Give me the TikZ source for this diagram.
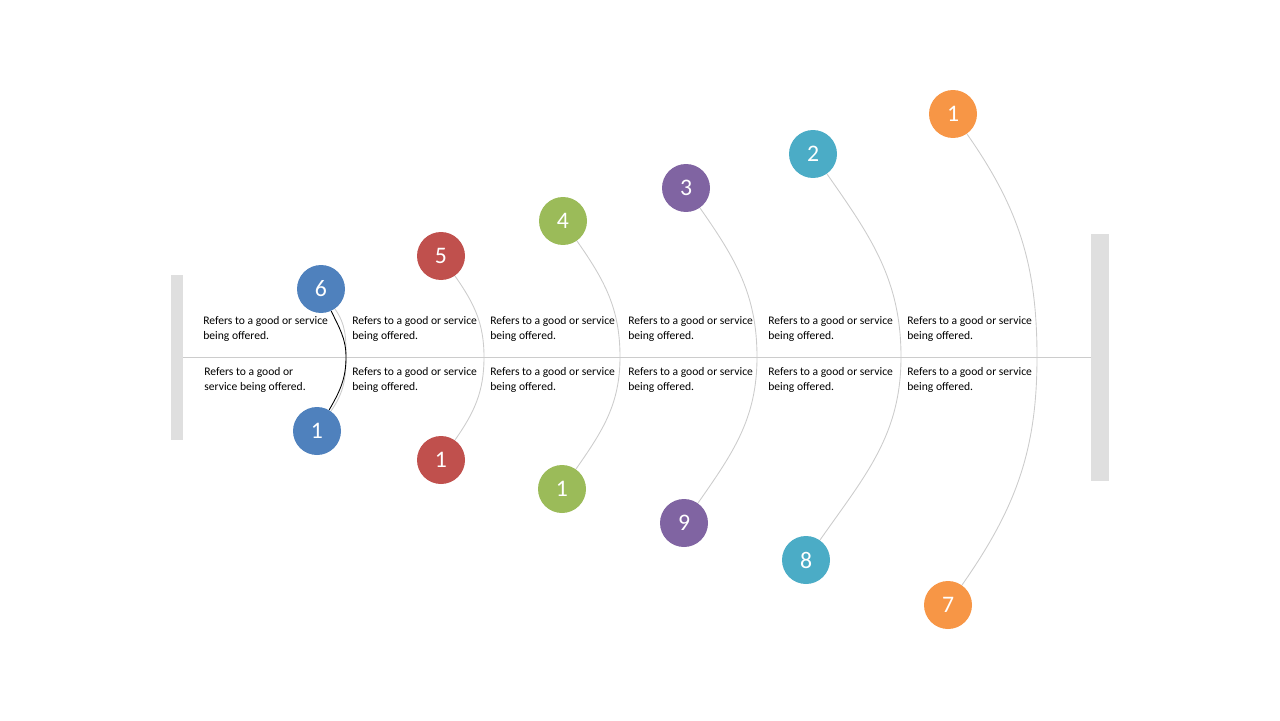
\documentclass[tikz,border=0pt]{standalone}
\usepackage{fontspec}
\setmainfont{Carlito}
\definecolor{cblue}{HTML}{4F81BD}
\definecolor{cred}{HTML}{C0504D}
\definecolor{cgreen}{HTML}{9BBB59}
\definecolor{cpurple}{HTML}{8064A2}
\definecolor{cteal}{HTML}{4BACC6}
\definecolor{corange}{HTML}{F79646}
\definecolor{barg}{HTML}{DFDFDF}
\tikzset{
  bone/.style={circle, minimum size=0.96cm, inner sep=0pt, text=white, font=\fontsize{13.5}{14}\selectfont},
  note/.style={anchor=north west, inner sep=0pt, align=left, font=\fontsize{6.6}{8.6}\selectfont},
  rib/.style={draw=black!20, line width=0.5pt}
}
\begin{document}
\begin{tikzpicture}[x=0.02cm,y=-0.02cm]
	\useasboundingbox (0,0) rectangle (1280,720);
	
	% --- Spine and end bars
	\fill[barg] (171,275) rectangle (183,440);
	\fill[barg] (1091,234) rectangle (1109,481);
	\coordinate (spineL) at (183,357);
	\coordinate (spineR) at (1091,357);
	\draw[black!20, line width=0.5pt] (spineL) -- (spineR);
	
	% --- Numbered circles and ribs: top x, top y, bottom x, bottom y, mid x, colour, top no., bottom no.
	\foreach \tx/\ty/\bx/\by/\mx/\c/\nt/\nb/\k in {
		321/289/317/431/346/cblue/6/1/a,
		441/256/441/460/484/cred/5/1/b,
		563/221/562/489/620/cgreen/4/1/c,
		686/188/684/523/757/cpurple/3/9/d,
		813/154/806/560/901/cteal/2/8/e,
		953/114/948/605/1037/corange/1/7/f}{
		\node[bone, fill=\c] (top\k) at (\tx,\ty) {\nt};
		\node[bone, fill=\c] (bot\k) at (\bx,\by) {\nb};
		\coordinate (mid\k) at (\mx,357);
		\draw[rib] (top\k.-55) to[out=-55,in=90] (mid\k) to[out=-90,in=55] (bot\k.55);
	}
	\draw[black, line width=0.5pt] (topa.-65) to[out=-65,in=90] (mida) to[out=-90,in=60] (bota.60);
	
	% --- Labels
	\node[note] (ta) at (203,316) {Refers to a good or service\\being offered.};
	\node[note] (ba) at (204,367) {Refers to a good or\\service being offered.};
	\foreach \x/\k in {352/b,490/c,628/d,768/e,907/f}{
		\node[note] (t\k) at (\x,316) {Refers to a good or service\\being offered.};
		\node[note] (b\k) at (\x,367) {Refers to a good or service\\being offered.};
	}
	
\end{tikzpicture}
\end{document}
